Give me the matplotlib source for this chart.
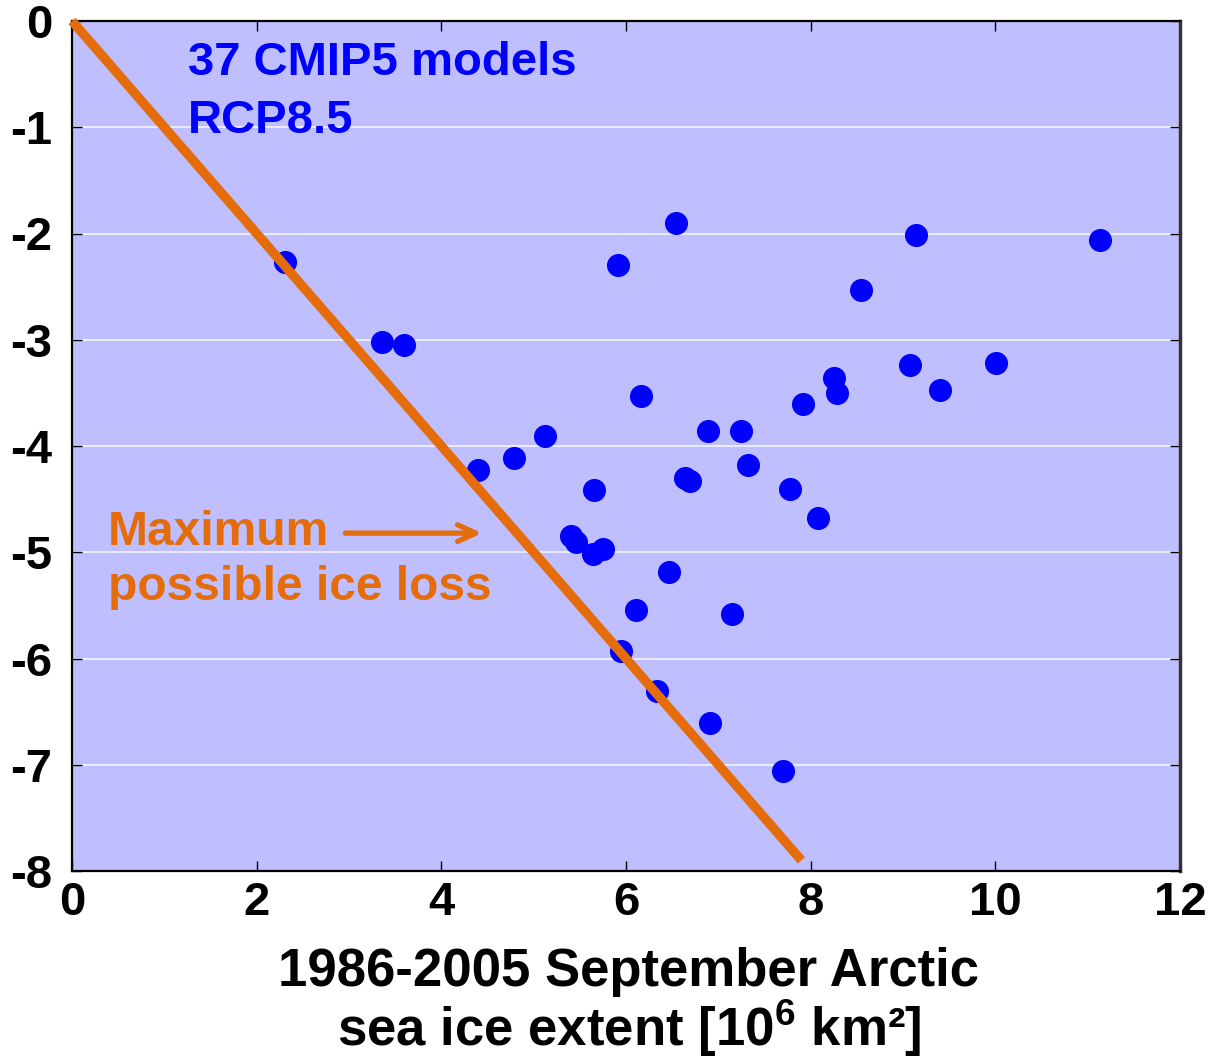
import matplotlib.pyplot as plt

plt.rcParams['font.family'] = ['Liberation Sans', 'DejaVu Sans']
plt.rcParams['font.weight'] = 'bold'
plt.rcParams['axes.unicode_minus'] = False
plt.rcParams['mathtext.fontset'] = 'custom'
plt.rcParams['mathtext.bf'] = 'Liberation Sans:bold'
plt.rcParams['mathtext.rm'] = 'Liberation Sans:bold'
plt.rcParams['mathtext.it'] = 'Liberation Sans:bold'

# 1986-2005 September extent vs. projected change, one dot per model
extent = [2.31, 3.36, 3.60, 4.40, 4.79, 5.12, 5.40, 5.46, 5.65, 5.64,
          5.75, 5.91, 5.95, 6.11, 6.16, 6.34, 6.47, 6.54, 6.64, 6.69,
          6.89, 6.91, 7.15, 7.25, 7.32, 7.70, 7.78, 7.92, 8.08, 8.25,
          8.29, 8.55, 9.08, 9.14, 9.40, 10.01, 11.13]
change = [-2.27, -3.02, -3.05, -4.23, -4.11, -3.91, -4.85, -4.90, -4.41, -5.02,
          -4.97, -2.30, -5.93, -5.54, -3.53, -6.31, -5.19, -1.90, -4.30, -4.33,
          -3.86, -6.61, -5.58, -3.86, -4.18, -7.06, -4.40, -3.60, -4.68, -3.36,
          -3.50, -2.53, -3.24, -2.01, -3.47, -3.22, -2.06]

# maximum possible loss: change = -extent
max_loss_x = [0, 7.9]
max_loss_y = [0, -7.9]

xticks = [0, 2, 4, 6, 8, 10, 12]
yticks = [0, -1, -2, -3, -4, -5, -6, -7, -8]

orange = '#E46C0A'
blue = '#0000FF'

fig = plt.figure(figsize=(12.13, 10.6), dpi=100)
ax = fig.add_axes([72/1213, 1 - 871/1060, (1180-72)/1213, (871-21)/1060])
ax.set_facecolor('#BFBFFF')

ax.plot(extent, change, 'o', color=blue, ms=15.6, zorder=3, clip_on=False)
ax.plot(max_loss_x, max_loss_y, color=orange, lw=6.8, solid_capstyle='butt',
        zorder=4, clip_on=False)

ax.set_xlim(0, 12)
ax.set_ylim(-8, 0)
ax.set_xticks(xticks)
ax.set_yticks(yticks)
ax.grid(axis='y', color='white', lw=1.3, alpha=0.75)
ax.set_axisbelow(True)
ax.tick_params(direction='in', length=7, width=1, top=True, right=True,
               labelsize=34, pad=14)
ax.tick_params(axis='x', pad=7)
for s in ['left', 'bottom', 'top']:
    ax.spines[s].set_linewidth(1.6)
ax.spines['right'].set_linewidth(2.5)
ax.spines['right'].set_color('#333333')

# x label, two lines placed separately so the superscript does not stretch them
fig.text(629/1213, 1 - 986/1060, '1986-2005 September Arctic',
         fontsize=38, fontweight='bold', ha='center', va='baseline')
fig.text(629/1213, 1 - 1046/1060, 'sea ice extent [10$^{\\mathbf{6}}$ km²]',
         fontsize=38, fontweight='bold', ha='center', va='baseline')

ax.text(1.26, -0.51, '37 CMIP5 models', color=blue, fontsize=34,
        fontweight='bold', va='baseline')
ax.text(1.26, -1.05, 'RCP8.5', color=blue, fontsize=34,
        fontweight='bold', va='baseline')

ax.text(0.39, -4.93, 'Maximum', color=orange, fontsize=34.5,
        fontweight='bold', va='baseline')
ax.text(0.39, -5.45, 'possible ice loss', color=orange, fontsize=34.5,
        fontweight='bold', va='baseline')
ax.annotate('', xy=(4.44, -4.82), xytext=(2.96, -4.82),
            arrowprops=dict(arrowstyle='->,head_length=1.3,head_width=0.6',
                            color=orange, lw=3.8, shrinkA=0, shrinkB=0,
                            capstyle='round', joinstyle='round'))

fig.savefig('out.png', dpi=100)
